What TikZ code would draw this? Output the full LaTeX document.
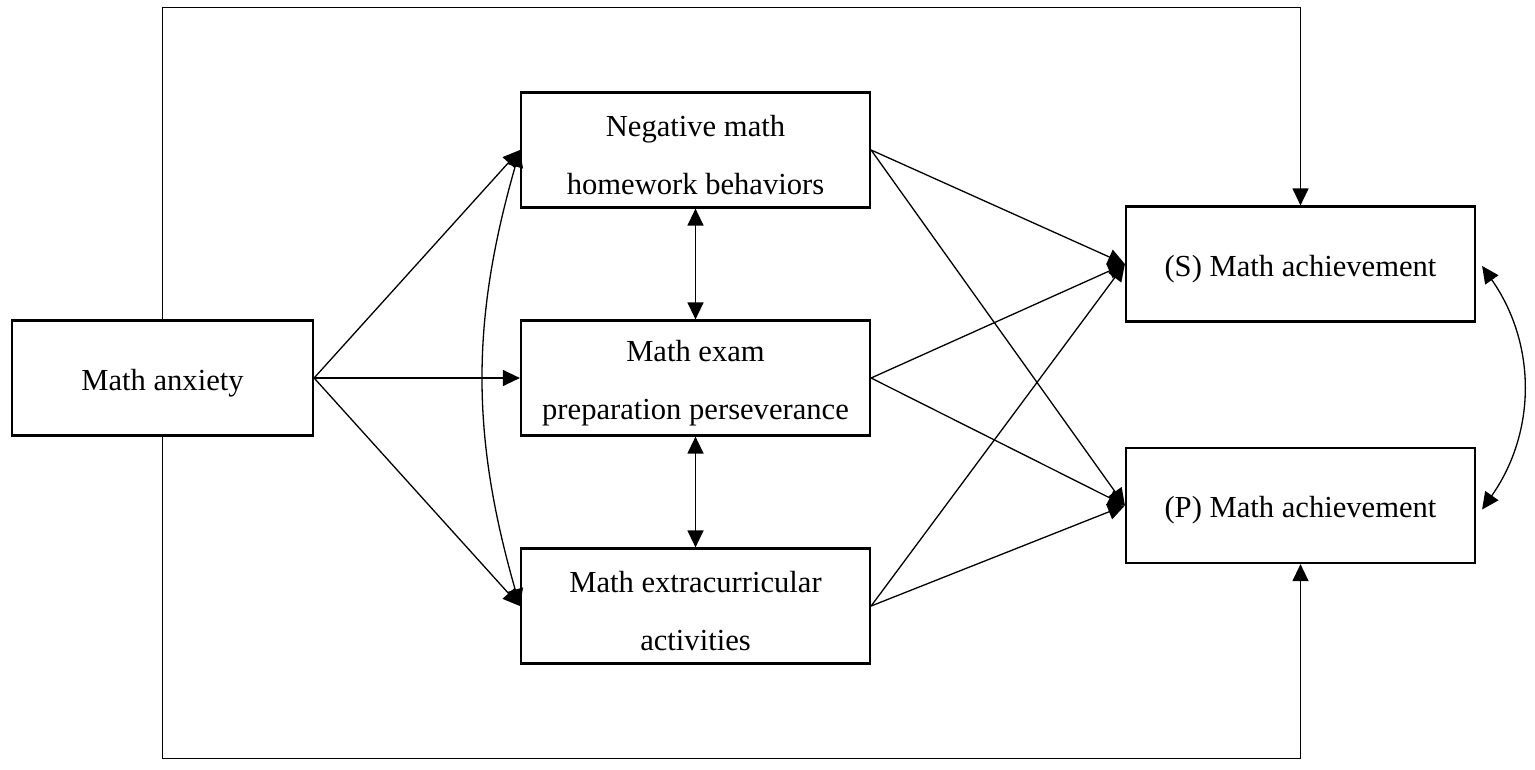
\documentclass[tikz,border=0pt]{standalone}
\usepackage{fontspec}
\setmainfont{Liberation Serif}
\usetikzlibrary{arrows.meta}
\begin{document}
\begin{tikzpicture}[x=1pt,y=-1pt,
  box/.style={draw,line width=2.2pt,minimum width=349pt,minimum height=115pt,inner sep=0pt},
  lbl/.style={align=center,inner sep=0pt,yshift=-5pt,font=\fontsize{30.6}{58}\selectfont},
  conn/.style={line width=1.3pt,-{Triangle[length=17pt,width=16pt]}},
  dconn/.style={line width=1.3pt,{Triangle[length=17pt,width=16pt]}-{Triangle[length=17pt,width=16pt]}}]
\useasboundingbox (0,0) rectangle (1535,769);
\node[box,minimum width=301pt,label={[lbl]center:Math anxiety}] (anx) at (162.5,378) {};
\node[box,label={[lbl]center:Negative math\\homework behaviors}] (neg) at (695.5,150) {};
\node[box,label={[lbl]center:Math exam\\preparation perseverance}] (exam) at (695.5,378) {};
\node[box,label={[lbl]center:Math extracurricular\\activities}] (ext) at (695.5,606) {};
\node[box,label={[lbl]center:(S) Math achievement}] (s) at (1300.5,264) {};
\node[box,label={[lbl]center:(P) Math achievement}] (p) at (1300.5,505.5) {};
% anxiety to mediators
\draw[conn] (anx.east) -- (neg.west);
\draw[conn] (anx.east) -- (exam.west);
\draw[conn] (anx.east) -- (ext.west);
% covariances
\draw[dconn] (neg.west) to[bend right=16] (ext.west);
\draw[dconn] (neg.south) -- (exam.north);
\draw[dconn] (exam.south) -- (ext.north);
% mediators to outcomes
\draw[conn] (neg.east) -- (s.west);
\draw[conn] (neg.east) -- (p.west);
\draw[conn] (exam.east) -- (s.west);
\draw[conn] (exam.east) -- (p.west);
\draw[conn] (ext.east) -- (s.west);
\draw[conn] (ext.east) -- (p.west);
% direct paths
\draw[conn] (anx.north) -- ++(0,-312) -| (s.north);
\draw[conn] (anx.south) -- ++(0,322) -| (p.south);
% outcome covariance
\coordinate (sr) at ([xshift=6pt,yshift=-2pt]s.east);
\coordinate (pr) at ([xshift=6pt,yshift=-4pt]p.east);
\draw[dconn] (sr) to[bend left=35] (pr);
\end{tikzpicture}
\end{document}
